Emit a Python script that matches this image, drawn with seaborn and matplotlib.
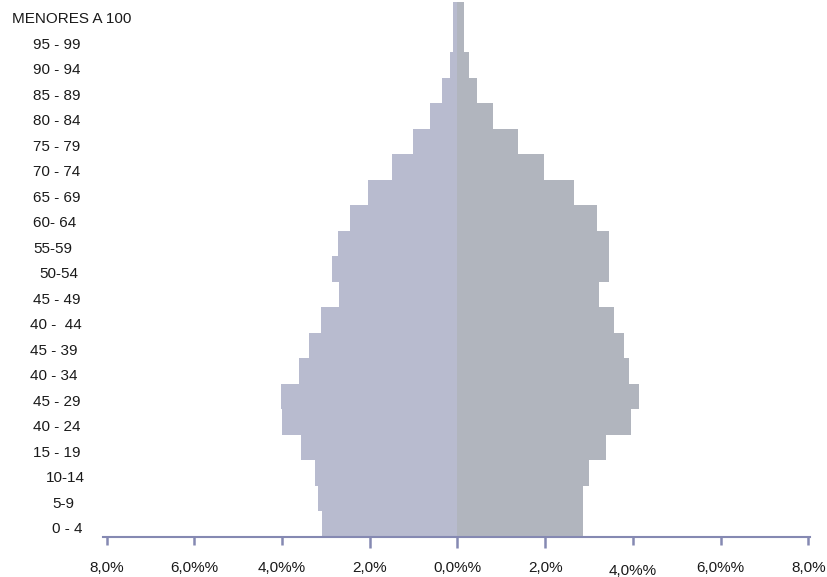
import numpy as np
import pandas as pd
import matplotlib
matplotlib.use("Agg")
import matplotlib.pyplot as plt
import matplotlib.transforms as mtransforms
import seaborn as sns

# ---- data (top to bottom) ----
categories = ["MENORES A 100", "95 - 99", "90 - 94", "85 - 89", "80 - 84", "75 - 79",
              "70 - 74", "65 - 69", "60- 64", "55-59", "50-54", "45 - 49", "40 -  44",
              "45 - 39", "40 - 34", "45 - 29", "40 - 24", "15 - 19", "10-14", "5-9", "0 - 4"]
left_values = [0.11, 0.11, 0.18, 0.36, 0.62, 1.01, 1.49, 2.03, 2.46, 2.73, 2.87, 2.69, 3.11,
               3.38, 3.61, 4.03, 4.00, 3.57, 3.24, 3.19, 3.09]
right_values = [0.16, 0.16, 0.26, 0.44, 0.82, 1.39, 1.97, 2.65, 3.18, 3.45, 3.45, 3.22, 3.58,
                3.79, 3.92, 4.14, 3.95, 3.39, 3.00, 2.87, 2.87]
tick_values = [-8, -6, -4, -2, 0, 2, 4, 6, 8]
tick_labels = ["8,0%", "6,0%%", "4,0%%", "2,0%", "0,0%%", "2,0%", "4,0%%", "6,0%%", "8,0%"]

# label left edges in figure pixels (style)
label_x_px = [12, 33, 33, 33, 33, 33, 33, 33, 33, 33, 39, 33, 30, 30, 30, 33, 33, 33, 46, 52, 52]

sns.set_theme(style="white")
plt.rcParams['font.family'] = ['Liberation Sans', 'DejaVu Sans']

W, H = 827, 577
fig = plt.figure(figsize=(W / 100, H / 100), dpi=100)
ax = fig.add_axes([102.7 / W, 1 - 536.7 / H, (810 - 102.7) / W, (536.7 - 1.5) / H])

df = pd.DataFrame({"cat": categories,
                   "left": -np.array(left_values),
                   "right": np.array(right_values)})

left_color = "#b8bbcf"
right_color = "#b1b5be"
axis_color = "#8589b2"

sns.barplot(data=df, x="left", y="cat", order=categories, color=left_color,
            width=1.0, linewidth=0, saturation=1, ax=ax)
sns.barplot(data=df, x="right", y="cat", order=categories, color=right_color,
            width=1.0, linewidth=0, saturation=1, ax=ax)

ax.set_xlim(-8.09, 8.04)
ax.set_ylim(len(categories) - 0.5, -0.5)
ax.set_xlabel("")
ax.set_ylabel("")
ax.set_yticks([])

for s in ["left", "top", "right"]:
    ax.spines[s].set_visible(False)
ax.spines["bottom"].set_color(axis_color)
ax.spines["bottom"].set_linewidth(1.5)
ax.spines["bottom"].set_zorder(5)

ax.set_xticks(tick_values)
ax.set_xticklabels(tick_labels, fontsize=11, color="#1a1a1a")
ax.tick_params(axis="x", bottom=True, direction="out", length=5.8, width=1.8,
               color=axis_color, pad=11.5)
ticks = ax.xaxis.get_major_ticks()
for i, t in enumerate(ticks):
    if tick_values[i] in (-2, 0, 2):
        t.tick1line.set_markersize(8.0)
ticks[6].set_pad(13.8)

# category labels
trans = mtransforms.blended_transform_factory(fig.transFigure, ax.transData)
for i, (lab, xp) in enumerate(zip(categories, label_x_px)):
    ax.text(xp / W, i + 0.2, lab, transform=trans, ha="left", va="center",
            fontsize=11, color="#1a1a1a", clip_on=False)

fig.savefig("out.png", dpi=100)
